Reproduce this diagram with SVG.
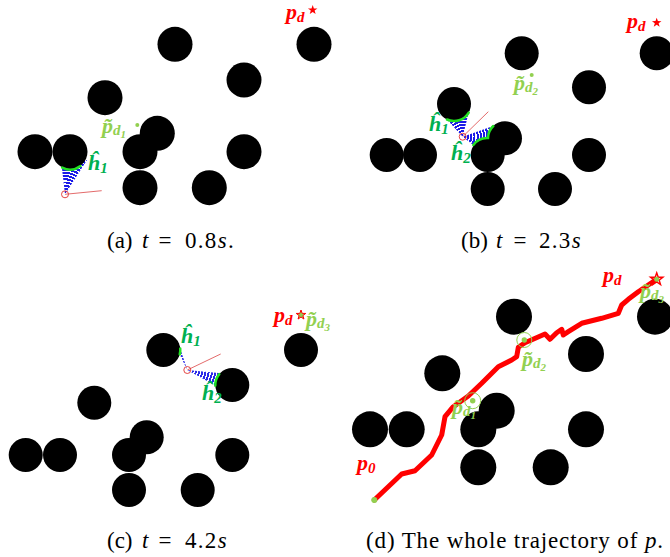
<svg xmlns="http://www.w3.org/2000/svg" width="670" height="557" viewBox="0 0 670 557">
<style>
.ob{fill:#000}
.ray{stroke:#e05a5a;stroke-width:0.9;fill:none}
.apex{stroke:#e03030;stroke-width:0.9;fill:none}
.hit{stroke:#22e022;stroke-width:2.5;fill:none;stroke-linecap:round}
.m{font-family:"Liberation Serif","Times New Roman",serif;font-style:italic;font-weight:bold;font-size:22px}
.red{fill:#ff0000}
.lg{fill:#92d050}
.dg{fill:#00b050}
.sub{font-size:15px}
.ss{font-size:11px}
.cap{font-family:"Liberation Serif","Times New Roman",serif;font-size:23px;fill:#000}
.num{letter-spacing:1.3px}
.it{font-style:italic}
.traj{stroke:#ff0000;stroke-width:5;fill:none;stroke-linejoin:round;stroke-linecap:round}
.ring{stroke:#92d050;stroke-width:1;fill:none}
</style>
<defs>
<path id="star" d="M0,-5 L1.18,-1.62 L4.76,-1.55 L1.9,0.62 L2.94,4.05 L0,2 L-2.94,4.05 L-1.9,0.62 L-4.76,-1.55 L-1.18,-1.62 Z"/>
<radialGradient id="ga" gradientUnits="userSpaceOnUse" cx="65" cy="194.3" r="3.2" spreadMethod="repeat">
<stop offset="0" stop-color="#fff"/><stop offset="0.38" stop-color="#fff"/><stop offset="0.38" stop-color="#1a1ae8"/><stop offset="1" stop-color="#1a1ae8"/>
</radialGradient>
<radialGradient id="gb" gradientUnits="userSpaceOnUse" cx="462.7" cy="136.7" r="3.2" spreadMethod="repeat">
<stop offset="0" stop-color="#fff"/><stop offset="0.38" stop-color="#fff"/><stop offset="0.38" stop-color="#1a1ae8"/><stop offset="1" stop-color="#1a1ae8"/>
</radialGradient>
<radialGradient id="gc" gradientUnits="userSpaceOnUse" cx="187.3" cy="370" r="3.2" spreadMethod="repeat">
<stop offset="0" stop-color="#fff"/><stop offset="0.4" stop-color="#fff"/><stop offset="0.4" stop-color="#2a2ae8"/><stop offset="1" stop-color="#2a2ae8"/>
</radialGradient>
</defs>
<rect width="670" height="557" fill="#fff"/>

<!-- Panel (a) -->
<g id="panel-a">
<polygon points="65,194.3 61,160 87,160" fill="url(#ga)"/>
<g id="obstacles-a">
<circle class="ob" cx="175" cy="44.3" r="17.5"/>
<circle class="ob" cx="314" cy="44.3" r="17.5"/>
<circle class="ob" cx="244" cy="80" r="17.5"/>
<circle class="ob" cx="105" cy="97.7" r="17.5"/>
<circle class="ob" cx="157.3" cy="133.3" r="17.5"/>
<circle class="ob" cx="35" cy="151.7" r="17.5"/>
<circle class="ob" cx="70" cy="151.7" r="17.5"/>
<circle class="ob" cx="140" cy="151.7" r="17.5"/>
<circle class="ob" cx="244" cy="151.7" r="17.5"/>
<circle class="ob" cx="140" cy="187.7" r="17.5"/>
<circle class="ob" cx="209.3" cy="187.7" r="17.5"/>
</g>
<path class="hit" d="M62.2,167.6 A17.5,17.5 0 0 0 80.5,166"/>
<line class="ray" x1="65" y1="194.3" x2="101.7" y2="190.7"/>
<circle class="apex" cx="65" cy="194.3" r="3.5"/>
<text class="m red" x="286" y="19">p<tspan class="sub" dy="3">d</tspan></text>
<use href="#star" x="312.7" y="10" fill="#ff0000"/>
<text class="m lg" x="102" y="133">p̃<tspan class="sub" dy="2">d</tspan><tspan class="ss" dy="3">1</tspan></text>
<circle cx="137.3" cy="125" r="2" fill="#92d050"/>
<text class="m dg" x="88" y="170">ĥ<tspan class="sub" dy="3">1</tspan></text>
</g>

<!-- Panel (b) -->
<g id="panel-b">
<polygon points="462.7,136.7 442.2,114.3 470.5,105.3" fill="url(#gb)"/>
<polygon points="462.7,136.7 476.5,147.5 502.5,122.8" fill="url(#gb)"/>
<g id="obstacles-b">
<circle class="ob" cx="521.7" cy="53.3" r="17"/>
<circle class="ob" cx="656.7" cy="53.3" r="17"/>
<circle class="ob" cx="589" cy="87.3" r="17"/>
<circle class="ob" cx="454" cy="104" r="17"/>
<circle class="ob" cx="505" cy="138.3" r="17"/>
<circle class="ob" cx="386.7" cy="155" r="17"/>
<circle class="ob" cx="420" cy="155" r="17"/>
<circle class="ob" cx="487.7" cy="155" r="17"/>
<circle class="ob" cx="589" cy="155" r="17"/>
<circle class="ob" cx="487.7" cy="189" r="17"/>
<circle class="ob" cx="555" cy="189" r="17"/>
</g>
<path class="hit" d="M446.95,119.5 A17,17 0 0 0 468.7,112.55"/>
<path class="hit" d="M473.3,145 A17,17 0 0 1 488,138 A17,17 0 0 1 493.3,126"/>
<line class="ray" x1="462.7" y1="136.7" x2="488.3" y2="111.7"/>
<circle class="apex" cx="462.7" cy="136.7" r="3.5"/>
<text class="m red" x="627" y="28">p<tspan class="sub" dy="3">d</tspan></text>
<use href="#star" x="656.7" y="22.7" fill="#ff0000"/>
<text class="m lg" x="514" y="90">p̃<tspan class="sub" dy="2">d</tspan><tspan class="ss" dy="3">2</tspan></text>
<circle cx="531.7" cy="75" r="2" fill="#92d050"/>
<text class="m dg" x="429" y="131">ĥ<tspan class="sub" dy="3">1</tspan></text>
<text class="m dg" x="451" y="160">ĥ<tspan class="sub" dy="3">2</tspan></text>
</g>

<!-- Panel (c) -->
<g id="panel-c">
<polygon points="187.3,370 178.1,342.05 177.45,349.7" fill="url(#gc)"/>
<polygon points="187.3,370 228.9,374 223.7,390.3" fill="url(#gc)"/>
<g id="obstacles-c">
<circle class="ob" cx="163.3" cy="350" r="17"/>
<circle class="ob" cx="301" cy="350" r="17"/>
<circle class="ob" cx="232.3" cy="385" r="17"/>
<circle class="ob" cx="94.3" cy="402.7" r="17"/>
<circle class="ob" cx="146.7" cy="437.3" r="17"/>
<circle class="ob" cx="25.7" cy="455" r="17"/>
<circle class="ob" cx="60" cy="455" r="17"/>
<circle class="ob" cx="129" cy="455" r="17"/>
<circle class="ob" cx="232.3" cy="455" r="17"/>
<circle class="ob" cx="129" cy="490" r="17"/>
<circle class="ob" cx="197.7" cy="490" r="17"/>
</g>
<path class="hit" d="M180.24,348.5 A17,17 0 0 1 179.72,354.4"/>
<path class="hit" d="M219.3,374.1 A17,17 0 0 0 215.3,385.6"/>
<line class="ray" x1="187.3" y1="370" x2="220.7" y2="354"/>
<circle class="apex" cx="187.3" cy="370" r="3.5"/>
<text class="m red" x="274" y="322">p<tspan class="sub" dy="3">d</tspan></text>
<use href="#star" x="301" y="315" fill="#92d050" stroke="#ff0000" stroke-width="1"/>
<text class="m lg" x="306" y="326">p̃<tspan class="sub" dy="2">d</tspan><tspan class="ss" dy="3">3</tspan></text>
<text class="m dg" x="181" y="343">ĥ<tspan class="sub" dy="3">1</tspan></text>
<text class="m dg" x="202" y="400">ĥ<tspan class="sub" dy="3">2</tspan></text>
</g>

<!-- Panel (d) -->
<g id="panel-d">
<g id="obstacles-d">
<circle class="ob" cx="514" cy="316.7" r="18"/>
<circle class="ob" cx="655" cy="316.7" r="18"/>
<circle class="ob" cx="586" cy="354" r="18"/>
<circle class="ob" cx="442.3" cy="373.3" r="18"/>
<circle class="ob" cx="496.7" cy="410.7" r="18"/>
<circle class="ob" cx="370" cy="429.3" r="18"/>
<circle class="ob" cx="406.7" cy="429.3" r="18"/>
<circle class="ob" cx="478.3" cy="429.3" r="18"/>
<circle class="ob" cx="586" cy="429.3" r="18"/>
<circle class="ob" cx="478.3" cy="467.3" r="18"/>
<circle class="ob" cx="550.7" cy="467.3" r="18"/>
</g>
<g id="connectors">
<path class="traj" d="M374.3,500 L401.7,474 L415,470.7 L431.7,455 L441.7,435 L445,416.7 L453.3,406.7 L468.3,396 L481.7,383.3 L498.3,366.7 L511.7,360 L516.7,356.7 L518.3,347.3 L525,342.7 L545,334 L550,339.3 L556.7,332.7 L561.7,329.3 L563.3,335 L568.3,331.7 L581.7,323.3 L601.7,318.3 L618.3,313.3 L621.7,305 L628.3,299.3 L638.3,291.7 L656.7,279.3"/>
</g>
<circle cx="374.3" cy="500" r="3" fill="#92d050"/>
<circle class="ring" cx="472.7" cy="400.7" r="8"/>
<circle cx="472.7" cy="400.7" r="2.7" fill="#92d050"/>
<circle class="ring" cx="524.3" cy="340" r="7.5"/>
<circle cx="524.3" cy="340" r="2.7" fill="#92d050"/>
<use href="#star" transform="translate(656.7,279.3) scale(1.3)" fill="none" stroke="#ff0000" stroke-width="1.1"/>
<circle cx="656.7" cy="279.3" r="2.5" fill="#92d050"/>
<text class="m red" x="357" y="470">p<tspan class="sub" dy="3">0</tspan></text>
<text class="m red" x="603" y="282">p<tspan class="sub" dy="3">d</tspan></text>
<text class="m lg" x="452" y="414">p̃<tspan class="sub" dy="2">d</tspan><tspan class="ss" dy="3">1</tspan></text>
<text class="m lg" x="522" y="366">p̃<tspan class="sub" dy="2">d</tspan><tspan class="ss" dy="3">2</tspan></text>
<text class="m lg" x="640" y="298">p̃<tspan class="sub" dy="2">d</tspan><tspan class="ss" dy="3">3</tspan></text>
</g>

<!-- Captions -->
<g id="captions">
<text class="cap" x="107" y="248">(a) <tspan class="it" x="142">t</tspan><tspan x="158.5">=</tspan><tspan class="num" x="185">0.8<tspan class="it">s</tspan>.</tspan></text>
<text class="cap" x="461" y="248">(b) <tspan class="it" x="496">t</tspan><tspan x="513.5">=</tspan><tspan class="num" x="539">2.3<tspan class="it">s</tspan></tspan></text>
<text class="cap" x="107" y="548">(c) <tspan class="it" x="142">t</tspan><tspan x="158.5">=</tspan><tspan class="num" x="185">4.2<tspan class="it">s</tspan></tspan></text>
<text class="cap" x="366" y="548" textLength="297" lengthAdjust="spacing">(d) The whole trajectory of <tspan class="it">p</tspan>.</text>
</g>
</svg>
